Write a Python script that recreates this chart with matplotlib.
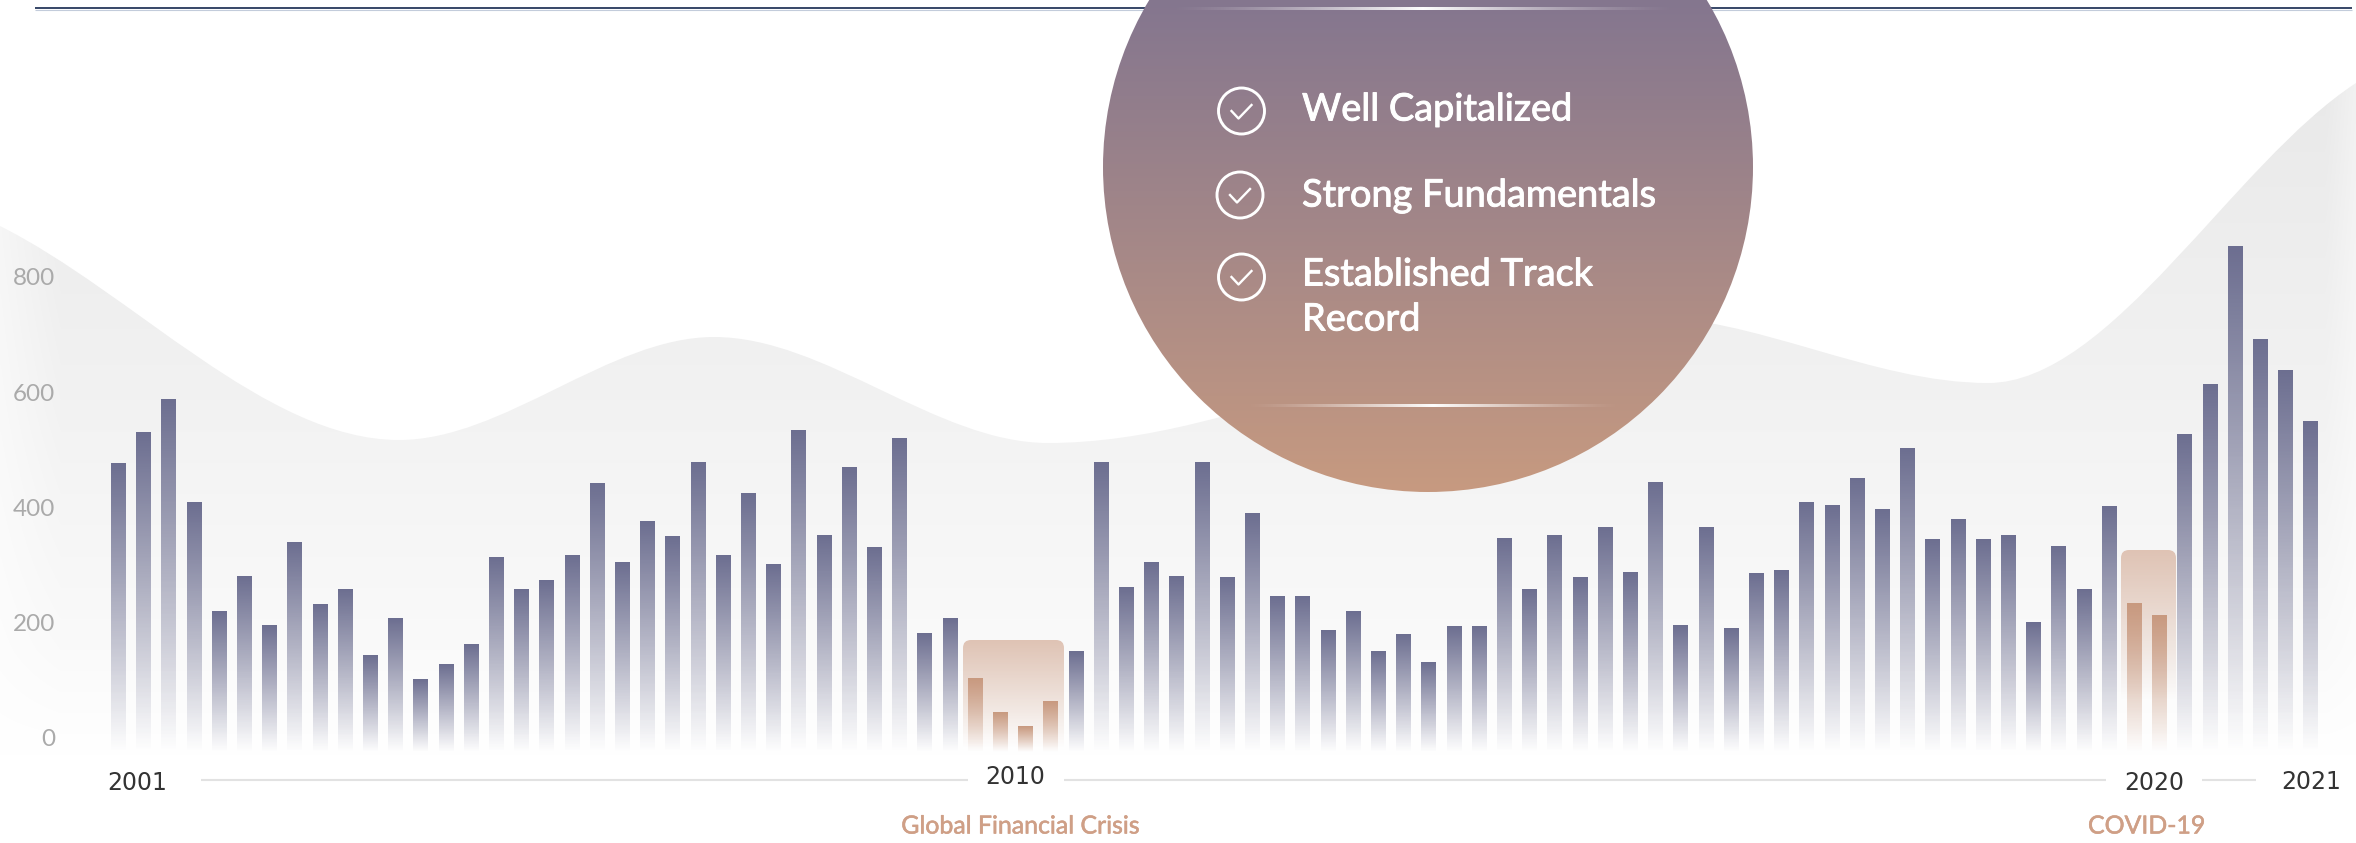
import numpy as np
import matplotlib
matplotlib.use('Agg')
import matplotlib.pyplot as plt
import matplotlib.patheffects as pe
from matplotlib.patches import Circle, FancyBboxPatch, PathPatch
from matplotlib.path import Path
from matplotlib.transforms import blended_transform_factory

W, H = 2356, 843

# bar values, one bar per quarter
values = [477, 531, 588, 409, 219, 281, 196, 340, 232, 258, 144, 208, 102, 127, 163, 314,
          258, 274, 316, 441, 305, 375, 350, 479, 316, 425, 302, 533, 352, 470, 331, 520,
          182, 208, 104, 45, 21, 64, 151, 479, 262, 305, 281, 479, 278, 389, 246, 245,
          186, 220, 151, 179, 132, 194, 193, 347, 258, 352, 278, 366, 288, 444, 195, 366,
          191, 285, 290, 408, 404, 451, 397, 502, 344, 379, 344, 352, 200, 333, 258, 401,
          233, 212, 527, 613, 853, 691, 637, 549]
crisis_bars = [34, 35, 36, 37, 80, 81]
y_ticks = [0, 200, 400, 600, 800]
year_labels = ['2001', '2010', '2020', '2021']
year_pos = [0.75, 35.6, 80.8, 87.05]
crisis_labels = ['Global Financial Crisis', 'COVID-19']
crisis_pos = [35.8, 80.5]
bullets = ['Well Capitalized', 'Strong Fundamentals', 'Established Track', 'Record']

# background wave: turning points in pixels, and the slope at each
wave_x = [0, 399, 714, 1048, 1640, 1988, 2356]
wave_y = [226, 440, 337, 443, 316, 383, 83]
wave_slope = [0.5, 0, 0, 0, 0, 0, -0.65]

BAR_COLOR = '#6c6e90'
CRISIS_COLOR = '#c8997f'
TEXT_ORANGE = '#cf9f86'
BASE = -24


def to_rgb(c):
    return np.array(matplotlib.colors.to_rgb(c))


def smooth_path(x, y, m):
    # hermite curve through the points, closed along the bottom of the figure
    verts = [[x[0], y[0]]]
    codes = [Path.MOVETO]
    for i in range(len(x) - 1):
        d = (x[i + 1] - x[i]) / 3
        verts += [[x[i] + d, y[i] + m[i] * d], [x[i + 1] - d, y[i + 1] - m[i + 1] * d], [x[i + 1], y[i + 1]]]
        codes += [Path.CURVE4] * 3
    verts += [[x[-1], H], [x[0], H], [x[0], y[0]]]
    codes += [Path.LINETO, Path.LINETO, Path.CLOSEPOLY]
    return Path(verts, codes)


def fade_bar(axis, x0, x1, y0, y1, color, top_alpha=1.0):
    # vertical colour to transparent ramp, top row first
    img = np.ones((256, 1, 4))
    img[..., :3] = to_rgb(color)
    img[:, 0, 3] = np.linspace(top_alpha, 0, 256)
    return axis.imshow(img, extent=[x0, x1, y0, y1], aspect='auto', origin='upper',
                       interpolation='nearest')


def glow_line(axis, cx, half, y, h=3):
    img = np.ones((1, 400, 4))
    img[0, :, 3] = (1 - np.abs(np.linspace(-1, 1, 400))) ** 1.4
    axis.imshow(img, extent=[cx - half, cx + half, y + h / 2, y - h / 2], aspect='auto',
                interpolation='bilinear', zorder=5)


fig = plt.figure(figsize=(W / 100, H / 100), dpi=100, facecolor='white')

# pixel axes for the decoration
bg = fig.add_axes([0, 0, 1, 1])
bg.axis('off')

# grey wave
ys = np.arange(H)
xs = np.arange(0, W, 2)
gray = np.interp(ys, [80, 400, 650, 755], [233, 242, 250, 255]) / 255
edge = np.interp(xs, [0, 60, 2325, 2356], [0.5, 1, 1, 0.6])
wave_img = np.ones((H, len(xs), 3))
for k in range(3):
    wave_img[:, :, k] = 1 - (1 - gray[:, None]) * edge[None, :]
im = bg.imshow(wave_img, extent=[0, W, H, 0], aspect='auto', interpolation='bilinear', zorder=1)
wave = PathPatch(smooth_path(wave_x, wave_y, wave_slope), transform=bg.transData, fc='none', ec='none')
bg.add_patch(wave)
im.set_clip_path(wave)

# crisis boxes
for x0, x1, top, bottom in [(963, 1064, 640, 748), (2121, 2176, 550, 700)]:
    box = FancyBboxPatch((x0 + 8, top + 8), x1 - x0 - 16, bottom - top, boxstyle='round,pad=8',
                         fc='none', ec='none', transform=bg.transData)
    bg.add_patch(box)
    b = fade_bar(bg, x0, x1, bottom, top, '#dfc3b4')
    b.set_zorder(2)
    b.set_clip_path(box)

# top rule
bg.plot([35, 2352], [9.6, 9.6], color='#c3ccdb', lw=0.8, zorder=2, solid_capstyle='butt')
bg.plot([35, 2352], [8.3, 8.3], color='#14274e', lw=1.2, zorder=2, solid_capstyle='butt')

# big circle with gradient
t = np.linspace(0, 1, 512)[:, None, None]
circle_img = (1 - t) * to_rgb('#84768f')[None, None, :] + t * to_rgb('#c79a80')[None, None, :]
cim = bg.imshow(circle_img, extent=[1103, 1753, 492, 0], aspect='auto', interpolation='bilinear', zorder=4)
disc = Circle((1428, 167), 325, transform=bg.transData, fc='none', ec='none')
bg.add_patch(disc)
cim.set_clip_path(disc)
glow_line(bg, 1423, 255, 8.7)
glow_line(bg, 1433, 190, 406)

# checks and bullet text
for cx, cy in [(1241.5, 111), (1240, 195), (1241.5, 277)]:
    bg.add_patch(Circle((cx, cy), 23, fc='none', ec='white', lw=2.1, zorder=6))
    bg.plot([cx - 10, cx - 3, cx + 10], [cy, cy + 7.5, cy - 6], color='white', lw=1.7, zorder=6)
for label, base in zip(bullets, [120.5, 206.5, 285.5, 330.5]):
    bg.text(1302, base, label, color='white', fontsize=27.3, family='Lato',
            va='baseline', ha='left', zorder=6,
            path_effects=[pe.withStroke(linewidth=0.7, foreground='white')])

# axis rule under the bars
for x0, x1 in [(201, 968), (1064, 2106), (2202, 2256)]:
    bg.plot([x0, x1], [780, 780], color='#e2e2e2', lw=1.5, zorder=2, solid_capstyle='butt')

bg.set_xlim(0, W)
bg.set_ylim(H, 0)

# data axes on top, 25.2 px per bar and 200 units per 115.3 px
ax = fig.add_axes([0, 0, 1, 1], facecolor='none')
idx = np.arange(len(values))
bar_width = 0.56
bars = ax.bar(idx, np.array(values) - BASE, bottom=BASE, width=bar_width, color='none')
for i, rect in enumerate(bars):
    color = CRISIS_COLOR if i in crisis_bars else BAR_COLOR
    fade_bar(ax, rect.get_x(), rect.get_x() + bar_width, BASE, values[i], color)

ax.set_xlim(-118 / 25.2, (W - 118) / 25.2)
ax.set_ylim(-(H - 738) * 200 / 115.3, 738 * 200 / 115.3)
ax.set_yticks(y_ticks)
ax.set_yticklabels([str(v) for v in y_ticks], color='#aaaaaa', fontsize=17.5, family='Lato')
ax.tick_params(axis='y', length=0, pad=-39.6)
ax.set_xticks([])
for s in ax.spines.values():
    s.set_visible(False)

trans = blended_transform_factory(ax.transData, bg.transData)
for label, x, y in zip(year_labels, year_pos, [783, 777, 783, 782]):
    ax.text(x, y, label, transform=trans, ha='center', va='center', color='#333333',
            fontsize=17, family='DejaVu Sans')
for label, x in zip(crisis_labels, crisis_pos):
    ax.text(x, 826, label, transform=trans, ha='center', va='center', color=TEXT_ORANGE,
            fontsize=17.9, family='Lato',
            path_effects=[pe.withStroke(linewidth=0.4, foreground=TEXT_ORANGE)])

fig.savefig('out.png', dpi=100)
